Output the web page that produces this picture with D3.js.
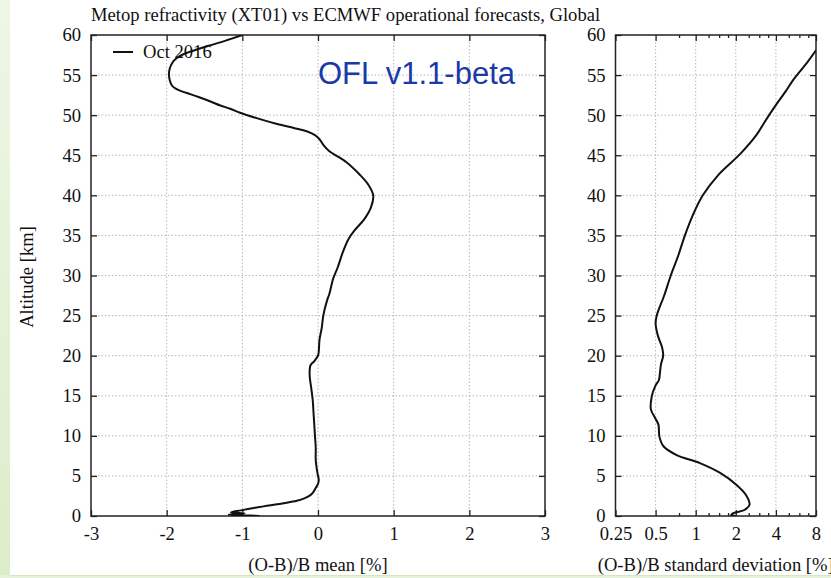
<!DOCTYPE html>
<html>
<head>
<meta charset="utf-8">
<script src="https://cdn.jsdelivr.net/npm/d3@7"></script>
<style>
    body { margin: 0; background: #fff; }
    svg { display: block; }
    text { font-family: "Liberation Serif", "Times New Roman", serif; fill: #111; }
</style>
</head>
<body>
<div id="chart"></div>
<script>
// values, top of the profile first
const meanAlt = [60, 59.3, 58.7, 58.1, 57.6, 57.1, 56.6, 55.8, 55.1, 54.4, 53.7, 53.3, 53.0, 52.6, 52.2, 51.7, 51.2, 50.8, 50.3, 49.6, 48.9, 48.4, 48.0, 47.5, 47.0, 46.3, 45.5, 44.8, 44.1, 42.6, 41.4, 40.0, 38.5, 37.0, 35.6, 34.5, 32.7, 31.0, 29.6, 27.7, 26.9, 25.0, 23.5, 22.0, 20.5, 20.0, 19.3, 18.8, 17.5, 16.0, 14.5, 13.0, 11.5, 10.0, 8.5, 7.0, 5.5, 4.5, 4.0, 3.5, 3.0, 2.6, 2.2, 1.9, 1.6, 1.3, 1.0, 0.7, 0.45, 0.33, 0.22, 0.17, 0.1, 0.0];
const meanVal = [-1.0, -1.22, -1.43, -1.63, -1.78, -1.87, -1.92, -1.96, -1.97, -1.96, -1.93, -1.88, -1.81, -1.68, -1.56, -1.42, -1.29, -1.16, -1.03, -0.80, -0.54, -0.32, -0.15, -0.04, 0.02, 0.07, 0.15, 0.27, 0.38, 0.55, 0.66, 0.73, 0.70, 0.61, 0.48, 0.40, 0.32, 0.26, 0.20, 0.15, 0.12, 0.07, 0.05, 0.02, 0.01, 0.0, -0.05, -0.10, -0.11, -0.09, -0.07, -0.06, -0.05, -0.04, -0.03, -0.03, -0.01, 0.01, 0.0, -0.03, -0.06, -0.10, -0.18, -0.28, -0.45, -0.65, -0.85, -1.02, -1.15, -0.97, -1.05, -1.18, -1.0, -0.77];

const sdAlt = [58.1, 56.5, 54.4, 53.0, 51.0, 49.0, 47.5, 45.2, 42.5, 40.0, 37.5, 35.0, 32.5, 30.0, 27.5, 25.0, 24.0, 22.5, 21.0, 20.0, 19.0, 18.0, 17.0, 16.2, 15.0, 13.3, 12.2, 11.4, 9.9, 8.7, 7.6, 6.6, 5.4, 3.9, 2.6, 1.4, 0.75, 0.33, 0.1, 0.0];
const sdVal = [8.0, 6.81, 5.40, 4.75, 3.9, 3.25, 2.85, 2.17, 1.47, 1.13, 0.95, 0.83, 0.74, 0.65, 0.58, 0.51, 0.50, 0.52, 0.56, 0.57, 0.55, 0.54, 0.53, 0.497, 0.469, 0.461, 0.497, 0.525, 0.534, 0.573, 0.72, 1.075, 1.515, 2.017, 2.39, 2.535, 2.32, 1.90, 1.85, 2.0];

const altTicks = [0, 5, 10, 15, 20, 25, 30, 35, 40, 45, 50, 55, 60];
const meanTicks = [-3, -2, -1, 0, 1, 2, 3];
const sdTicks = [0.25, 0.5, 1, 2, 4, 8];
const sdMinor = [0.75, 1.25, 1.5, 1.75, 2.5, 3, 3.5, 5, 6, 7];

const W = 831, H = 578;
const plotTop = 35, plotBottom = 516;

const svg = d3.select("#chart").append("svg")
    .attr("width", W)
    .attr("height", H);

// slide background: green strip on the left and at the bottom
let defs = svg.append("defs");
let grad = defs.append("linearGradient")
    .attr("id", "strip").attr("x1", 0).attr("y1", 0).attr("x2", 0).attr("y2", 1);
grad.append("stop").attr("offset", "0%").attr("stop-color", "#eef6e6");
grad.append("stop").attr("offset", "100%").attr("stop-color", "#dcedc9");
svg.append("rect").attr("x", 0).attr("y", 0).attr("width", 10).attr("height", H).attr("fill", "url(#strip)");
svg.append("rect").attr("x", 0).attr("y", 575).attr("width", W).attr("height", 3).attr("fill", "#e6f2da");
svg.append("line").attr("x1", 10).attr("x2", W).attr("y1", 575.5).attr("y2", 575.5)
    .attr("stroke", "#d3e9bd").attr("stroke-width", 1);

let y = d3.scaleLinear().domain([0, 60]).range([plotBottom, plotTop]);

function drawPanel(x, ticks, minor, alts, vals, label) {
    let [x0, x1] = x.range();
    let g = svg.append("g");

    // dotted grid
    g.append("g").selectAll("line")
        .data(ticks.slice(1, -1))
        .join("line")
        .attr("x1", d => x(d)).attr("x2", d => x(d))
        .attr("y1", plotTop).attr("y2", plotBottom)
        .attr("stroke", "#b8b8b8").attr("stroke-dasharray", "1.5,2");
    g.append("g").selectAll("line")
        .data(altTicks.slice(1, -1))
        .join("line")
        .attr("x1", x0).attr("x2", x1)
        .attr("y1", d => y(d)).attr("y2", d => y(d))
        .attr("stroke", "#b8b8b8").attr("stroke-dasharray", "1.5,2");

    // axes, ticks pointing inwards
    let fmt = d => String(d);
    let xb = g.append("g").attr("transform", `translate(0,${plotBottom})`)
        .call(d3.axisBottom(x).tickValues(ticks).tickSize(-6).tickPadding(11).tickFormat(fmt));
    let xt = g.append("g").attr("transform", `translate(0,${plotTop})`)
        .call(d3.axisTop(x).tickValues(ticks).tickSize(-6).tickFormat(""));
    let yl = g.append("g").attr("transform", `translate(${x0},0)`)
        .call(d3.axisLeft(y).tickValues(altTicks).tickSize(-6).tickPadding(10).tickFormat(fmt));
    let yr = g.append("g").attr("transform", `translate(${x1},0)`)
        .call(d3.axisRight(y).tickValues(altTicks).tickSize(-6).tickFormat(""));
    let axes = [xb, xt, yl, yr];
    if (minor) {
        axes.push(g.append("g").attr("transform", `translate(0,${plotBottom})`)
            .call(d3.axisBottom(x).tickValues(minor).tickSize(-3).tickFormat("")));
        axes.push(g.append("g").attr("transform", `translate(0,${plotTop})`)
            .call(d3.axisTop(x).tickValues(minor).tickSize(-3).tickFormat("")));
    }
    axes.forEach(a => {
        a.select(".domain").remove();
        a.selectAll("line").attr("stroke", "#222").attr("stroke-width", 1.3);
        a.selectAll("text")
            .style("font-family", '"Liberation Serif", serif')
            .style("font-size", "18.6px")
            .attr("fill", "#111");
    });

    // frame
    g.append("rect")
        .attr("x", x0).attr("y", plotTop)
        .attr("width", x1 - x0).attr("height", plotBottom - plotTop)
        .attr("fill", "none").attr("stroke", "#222").attr("stroke-width", 1.5);

    // profile
    let clipId = "clip" + Math.round(x0);
    defs.append("clipPath").attr("id", clipId)
        .append("rect").attr("x", x0).attr("y", plotTop).attr("width", x1 - x0).attr("height", plotBottom - plotTop);
    let line = d3.line()
        .x(d => x(d[1]))
        .y(d => y(d[0]))
        .curve(d3.curveCatmullRom.alpha(0.5));
    g.append("path")
        .datum(alts.map((a, i) => [a, vals[i]]))
        .attr("clip-path", `url(#${clipId})`)
        .attr("d", line)
        .attr("fill", "none")
        .attr("stroke", "#111")
        .attr("stroke-width", 2);

    // x axis title
    g.append("text")
        .attr("x", (x0 + x1) / 2)
        .attr("y", 571)
        .attr("text-anchor", "middle")
        .style("font-size", "18.6px")
        .text(label);
}

let xMean = d3.scaleLinear().domain([-3, 3]).range([91, 545]);
let xSd = d3.scaleLog().base(2).domain([0.25, 8]).range([615.5, 816]);

drawPanel(xMean, meanTicks, null, meanAlt, meanVal, "(O-B)/B mean [%]");
drawPanel(xSd, sdTicks, sdMinor, sdAlt, sdVal, "(O-B)/B standard deviation [%]");

// title
svg.append("text")
    .attr("x", 91)
    .attr("y", 21)
    .style("font-size", "18.6px")
    .text("Metop refractivity (XT01) vs ECMWF operational forecasts, Global");

// y axis title
svg.append("text")
    .attr("transform", "translate(33,277) rotate(-90)")
    .attr("text-anchor", "middle")
    .style("font-size", "18.6px")
    .text("Altitude [km]");

// legend
svg.append("line")
    .attr("x1", 113).attr("x2", 133)
    .attr("y1", 52).attr("y2", 52)
    .attr("stroke", "#111").attr("stroke-width", 2);
svg.append("text")
    .attr("x", 143)
    .attr("y", 58)
    .style("font-size", "18.6px")
    .text("Oct 2016");

// version stamp
svg.append("text")
    .attr("x", 318)
    .attr("y", 84)
    .style("font-family", '"Liberation Sans", Arial, sans-serif')
    .style("font-size", "31px")
    .style("fill", "#1a3aa6")
    .text("OFL v1.1-beta");
</script>
</body>
</html>
